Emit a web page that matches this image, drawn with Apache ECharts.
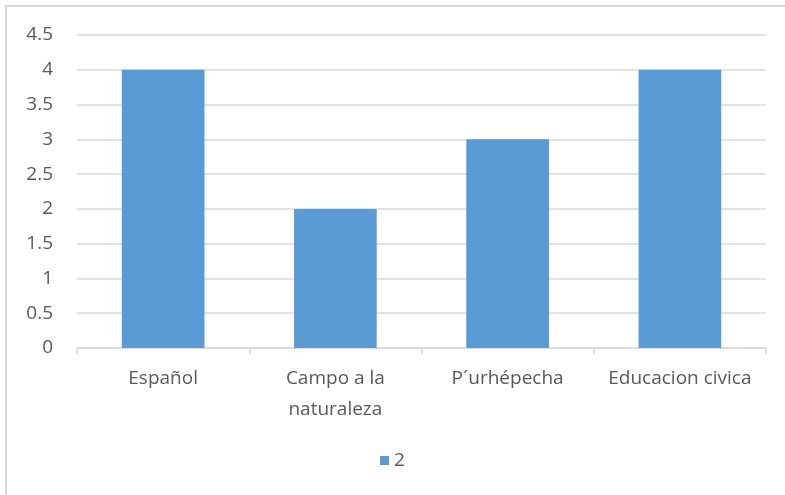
<!DOCTYPE html>
<html>
<head>
<meta charset="utf-8">
<script src="https://cdn.jsdelivr.net/npm/echarts@6/dist/echarts.min.js"></script>
<style>
    html, body { margin: 0; padding: 0; background: #fff; }
    #frame { position: absolute; left: 5px; top: 5px; width: 800px; height: 500px; border: 2px solid #d9d9d9; box-sizing: border-box; }
    #chart { position: absolute; left: 0; top: 0; width: 785px; height: 495px; }
</style>
</head>
<body>
<div id="frame"></div>
<div id="chart"></div>
<script>
var categories = ['Español', 'Campo a la\nnaturaleza', 'P\u00B4urhépecha', 'Educacion civica'];
var values = [4, 2, 3, 4];
var seriesName = '2';
var yTicks = { min: 0, max: 4.5, step: 0.5 };

var myChart = echarts.init(document.getElementById('chart'));
var option = {
    animation: false,
    textStyle: { fontFamily: 'Open Sans' },
    grid: { left: 77, right: 19, top: 35, bottom: 147 },
    legend: {
        bottom: 20,
        left: 'center',
        itemWidth: 9,
        itemHeight: 9,
        itemGap: 8,
        icon: 'rect',
        textStyle: { fontSize: 19, color: '#595959', fontFamily: 'Open Sans' },
        data: [seriesName]
    },
    xAxis: {
        type: 'category',
        data: categories,
        axisLine: { lineStyle: { color: '#d9d9d9', width: 1.5 } },
        axisTick: { show: true, length: 6, lineStyle: { color: '#d9d9d9', width: 1.5 } },
        axisLabel: { fontSize: 19, color: '#595959', margin: 15, lineHeight: 31, interval: 0 }
    },
    yAxis: {
        type: 'value',
        min: yTicks.min,
        max: yTicks.max,
        interval: yTicks.step,
        axisLine: { show: false },
        axisTick: { show: false },
        splitLine: { lineStyle: { color: '#d9d9d9', width: 1.5 } },
        axisLabel: { fontSize: 19, color: '#595959', margin: 24 }
    },
    series: [
        {
            name: seriesName,
            type: 'bar',
            data: values,
            barCategoryGap: '52%',
            itemStyle: { color: '#5b9bd5' }
        }
    ]
};
myChart.setOption(option);
</script>
</body>
</html>
